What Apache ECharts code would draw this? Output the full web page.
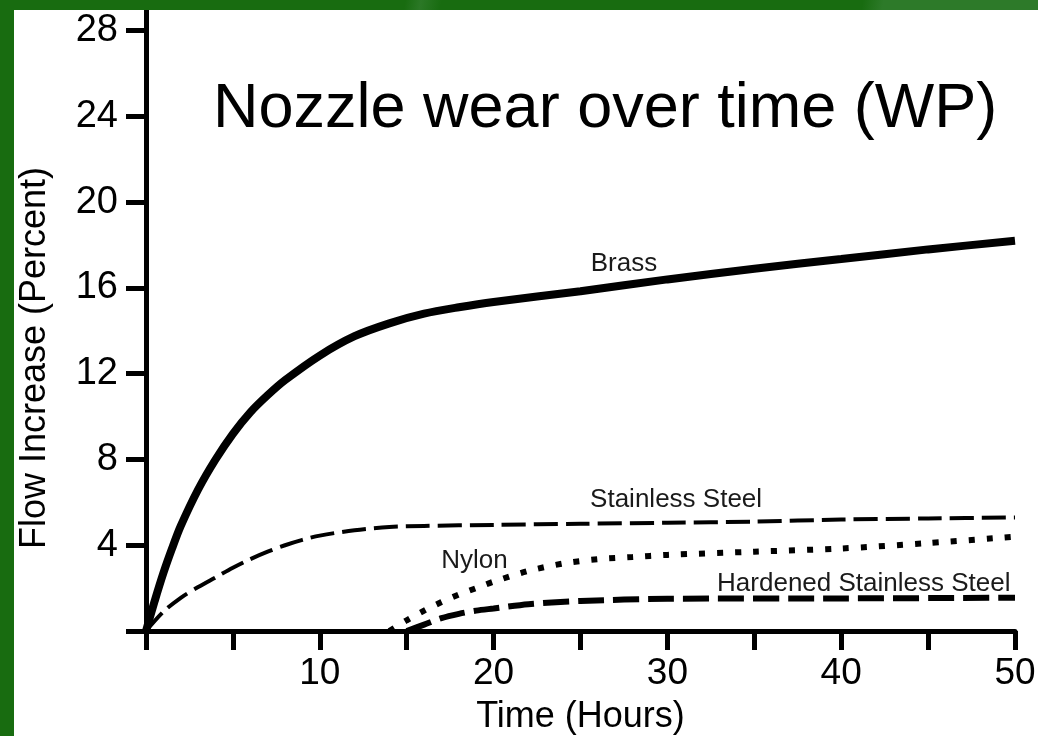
<!DOCTYPE html>
<html>
<head>
<meta charset="utf-8">
<title>Nozzle wear over time</title>
<script src="https://cdn.jsdelivr.net/npm/echarts@6.0.0/dist/echarts.min.js"></script>
<style>
html, body {
    margin: 0;
    padding: 0;
    background: #fff;
}
#chart {
    position: absolute;
    left: 0;
    top: 0;
    width: 1038px;
    height: 736px;
}
/* green slide frame over the chart */
.frame-top {
    position: absolute;
    left: 0;
    top: 0;
    width: 1038px;
    height: 10px;
    z-index: 10;
    background: linear-gradient(100deg, #186c10 0%, #186c10 39%, #2b7826 40.5%, #186c10 42.5%, #186c10 83%, #2d7a29 85%, #2d7a29 100%);
}
.frame-left {
    position: absolute;
    left: 0;
    top: 0;
    width: 14px;
    height: 736px;
    z-index: 10;
    background: #186c10;
}
</style>
</head>
<body>
<div id="chart"></div>
<div class="frame-top"></div>
<div class="frame-left"></div>
<script>
// 数据
const brassHours = [0, 0.5, 1, 1.5, 2, 3, 4, 5, 6, 7, 8, 10, 12, 14, 16, 18, 20, 25, 30, 35, 40, 45, 50];
const brassFlow = [0, 1.4, 2.7, 3.85, 4.9, 6.6, 8.0, 9.2, 10.2, 11.0, 11.7, 12.85, 13.75, 14.35, 14.8, 15.1, 15.35, 15.85, 16.4, 16.9, 17.35, 17.8, 18.2];

const stainlessHours = [0, 1, 2, 3, 4, 5, 6, 7, 8, 9, 10, 12, 14, 16, 20, 25, 30, 35, 40, 45, 50];
const stainlessFlow = [0, 0.9, 1.55, 2.05, 2.5, 2.95, 3.35, 3.7, 4.0, 4.25, 4.45, 4.7, 4.85, 4.9, 4.95, 5.0, 5.05, 5.1, 5.2, 5.25, 5.3];

const nylonHours = [14, 15, 16, 17, 18, 19, 20, 22, 24, 26, 28, 30, 35, 40, 45, 50];
const nylonFlow = [0, 0.5, 0.95, 1.35, 1.7, 2.0, 2.3, 2.8, 3.15, 3.35, 3.45, 3.55, 3.7, 3.85, 4.1, 4.4];

const hardenedHours = [15, 16, 17, 18, 19, 20, 22, 25, 30, 40, 50];
const hardenedFlow = [0, 0.3, 0.6, 0.8, 0.95, 1.05, 1.25, 1.4, 1.5, 1.52, 1.55];

const xTickLabels = [10, 20, 30, 40, 50];
const yTickLabels = [4, 8, 12, 16, 20, 24, 28];

function pairs(xs, ys) {
    return xs.map(function (x, i) {
        return [x, ys[i]];
    });
}

let myChart = echarts.init(document.getElementById("chart"));

let noteLabel = {
    show: true,
    position: "inside",
    formatter: "{b}",
    color: "#1a1a1a",
    fontSize: 26,
    fontFamily: "'Liberation Sans', Arial, sans-serif",
};

function note(name, x, y) {
    return {
        symbol: "rect",
        symbolSize: 1,
        itemStyle: { color: "rgba(0,0,0,0)" },
        label: noteLabel,
        data: [{ name: name, coord: [x, y] }],
    };
}

let option = {
    animation: false,
    backgroundColor: "#ffffff",
    title: {
        text: "Nozzle wear over time (WP)",
        left: 213,
        top: 78,
        padding: 0,
        textStyle: {
            color: "#000",
            fontSize: 63,
            fontWeight: "normal",
            fontFamily: "'Liberation Sans', Arial, sans-serif",
        },
    },
    grid: {
        left: 146,
        right: 23,
        top: 5,
        bottom: 105,
        containLabel: false,
        outerBoundsMode: "none",
    },
    graphic: [
        {
            type: "text",
            x: 35,
            y: 358,
            rotation: Math.PI / 2,
            style: {
                text: "Flow Increase (Percent)",
                fill: "#000",
                font: "36px 'Liberation Sans', Arial, sans-serif",
                textAlign: "center",
                textVerticalAlign: "middle",
                align: "center",
                verticalAlign: "middle",
            },
        },
    ],
    xAxis: {
        type: "value",
        min: 0,
        max: 50,
        interval: 5,
        name: "Time (Hours)",
        nameLocation: "middle",
        nameGap: 68,
        nameTextStyle: {
            color: "#000",
            fontSize: 36,
            fontFamily: "'Liberation Sans', Arial, sans-serif",
        },
        axisLine: {
            lineStyle: { color: "#000", width: 5 },
        },
        axisTick: {
            length: 19,
            lineStyle: { color: "#000", width: 5 },
        },
        axisLabel: {
            margin: 24,
            color: "#000",
            fontSize: 37,
            fontFamily: "'Liberation Sans', Arial, sans-serif",
            formatter: function (v) {
                return xTickLabels.indexOf(v) >= 0 ? String(v) : "";
            },
        },
        splitLine: { show: false },
    },
    yAxis: {
        type: "value",
        min: 0,
        max: 29.2,
        interval: 4,
        axisLine: {
            show: true,
            lineStyle: { color: "#000", width: 5 },
        },
        axisTick: {
            show: true,
            length: 20,
            lineStyle: { color: "#000", width: 5 },
        },
        axisLabel: {
            margin: 28,
            color: "#000",
            fontSize: 38,
            fontFamily: "'Liberation Sans', Arial, sans-serif",
            formatter: function (v) {
                return yTickLabels.indexOf(v) >= 0 ? String(v) : "";
            },
        },
        splitLine: { show: false },
    },
    series: [
        {
            name: "Brass",
            type: "line",
            data: pairs(brassHours, brassFlow),
            showSymbol: false,
            smooth: 0.3,
            lineStyle: { color: "#000", width: 8 },
            markPoint: note("Brass", 27.5, 17.15),
            z: 3,
        },
        {
            name: "Stainless Steel",
            type: "line",
            data: pairs(stainlessHours, stainlessFlow),
            showSymbol: false,
            smooth: 0.3,
            lineStyle: { color: "#000", width: 4, type: [24, 8] },
            markPoint: note("Stainless Steel", 30.5, 6.1),
        },
        {
            name: "Nylon",
            type: "line",
            data: pairs(nylonHours, nylonFlow),
            showSymbol: false,
            smooth: 0.3,
            lineStyle: { color: "#000", width: 6, type: [6, 12] },
            markPoint: note("Nylon", 18.9, 3.25),
        },
        {
            name: "Hardened Stainless Steel",
            type: "line",
            data: pairs(hardenedHours, hardenedFlow),
            showSymbol: false,
            smooth: 0.3,
            lineStyle: { color: "#000", width: 6, type: [26, 9] },
            markPoint: note("Hardened Stainless Steel", 41.3, 2.18),
        },
    ],
};

myChart.setOption(option);
window.addEventListener("resize", function () {
    myChart.resize();
});
</script>
</body>
</html>
